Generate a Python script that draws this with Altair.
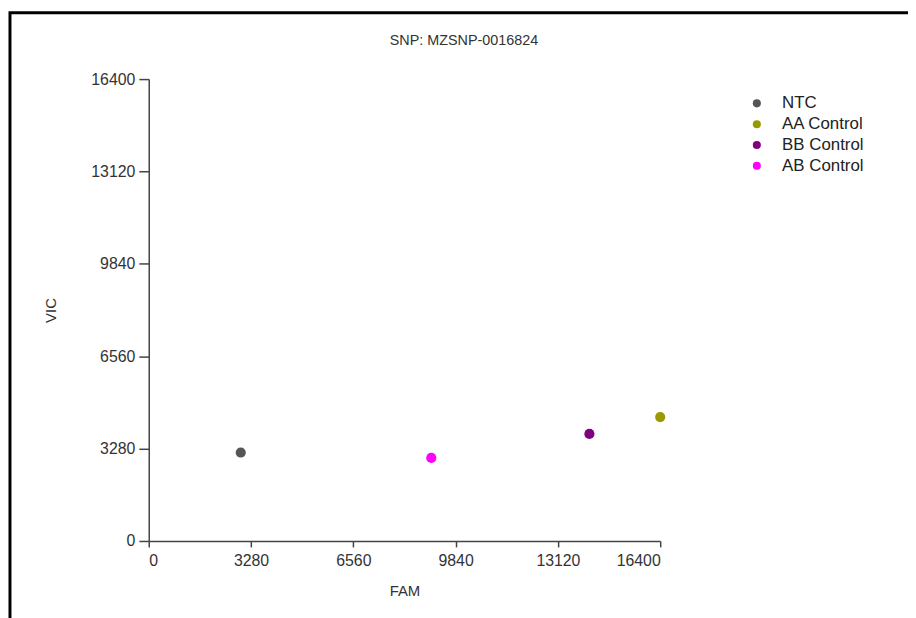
import altair as alt
import pandas as pd

# Data
samples = ["NTC", "AB Control", "BB Control", "AA Control"]
fam = [2950, 9060, 14130, 16400]
vic = [3140, 2950, 3800, 4400]
legend_order = ["NTC", "AA Control", "BB Control", "AB Control"]
legend_colors = ["#555555", "#999900", "#800080", "#ff00ff"]
tick_values = [0, 3280, 6560, 9840, 13120, 16400]
title_text = "SNP: MZSNP-0016824"

FONT = "Liberation Sans"

df = pd.DataFrame({"Sample": samples, "FAM": fam, "VIC": vic})

frame = alt.Chart(pd.DataFrame({"k": [0]})).mark_rect(
    fill="white", stroke="black", strokeWidth=3
).encode(
    x=alt.value(-140), x2=alt.value(800), y=alt.value(-67), y2=alt.value(600)
)

axis_common = dict(
    values=tick_values, format="d", grid=False, zindex=1,
    domainColor="#444444", domainWidth=1.5, tickColor="#444444", tickWidth=1.5,
    labelFont=FONT, labelFontSize=16, labelColor="#333333",
    titleFont=FONT, titleFontSize=15, titleFontWeight="normal", titleColor="#333333",
)

points = alt.Chart(df).mark_circle(size=105, opacity=1).encode(
    x=alt.X("FAM:Q", scale=alt.Scale(domain=[0, 16400], nice=False),
            axis=alt.Axis(title="FAM", tickSize=6, labelPadding=6, titlePadding=15, **axis_common)),
    y=alt.Y("VIC:Q", scale=alt.Scale(domain=[0, 16400], nice=False),
            axis=alt.Axis(title="VIC", tickSize=10, labelPadding=4, titlePadding=33, **axis_common)),
    color=alt.Color("Sample:N", scale=alt.Scale(domain=legend_order, range=legend_colors),
                    legend=alt.Legend(title=None, orient="none", legendX=605, legendY=16,
                                      padding=0, symbolType="circle", symbolSize=66,
                                      symbolOpacity=1, symbolStrokeWidth=0,
                                      labelFont=FONT, labelFontSize=17, labelColor="#222222",
                                      labelOffset=17, rowPadding=3)),
)

chart = alt.layer(frame, points).properties(
    width=516, height=466,
    autosize=alt.AutoSizeParams(type="none"),
    padding={"left": 142, "top": 69, "right": 250, "bottom": 75},
    title=alt.Title(title_text, font=FONT, fontSize=14.5, fontWeight="normal", color="#333333",
                    anchor="middle", frame="group", offset=-49, baseline="alphabetic", dx=60),
).configure_view(strokeWidth=0)

chart.save("out.html", embed_options={"renderer": "svg", "actions": False})
